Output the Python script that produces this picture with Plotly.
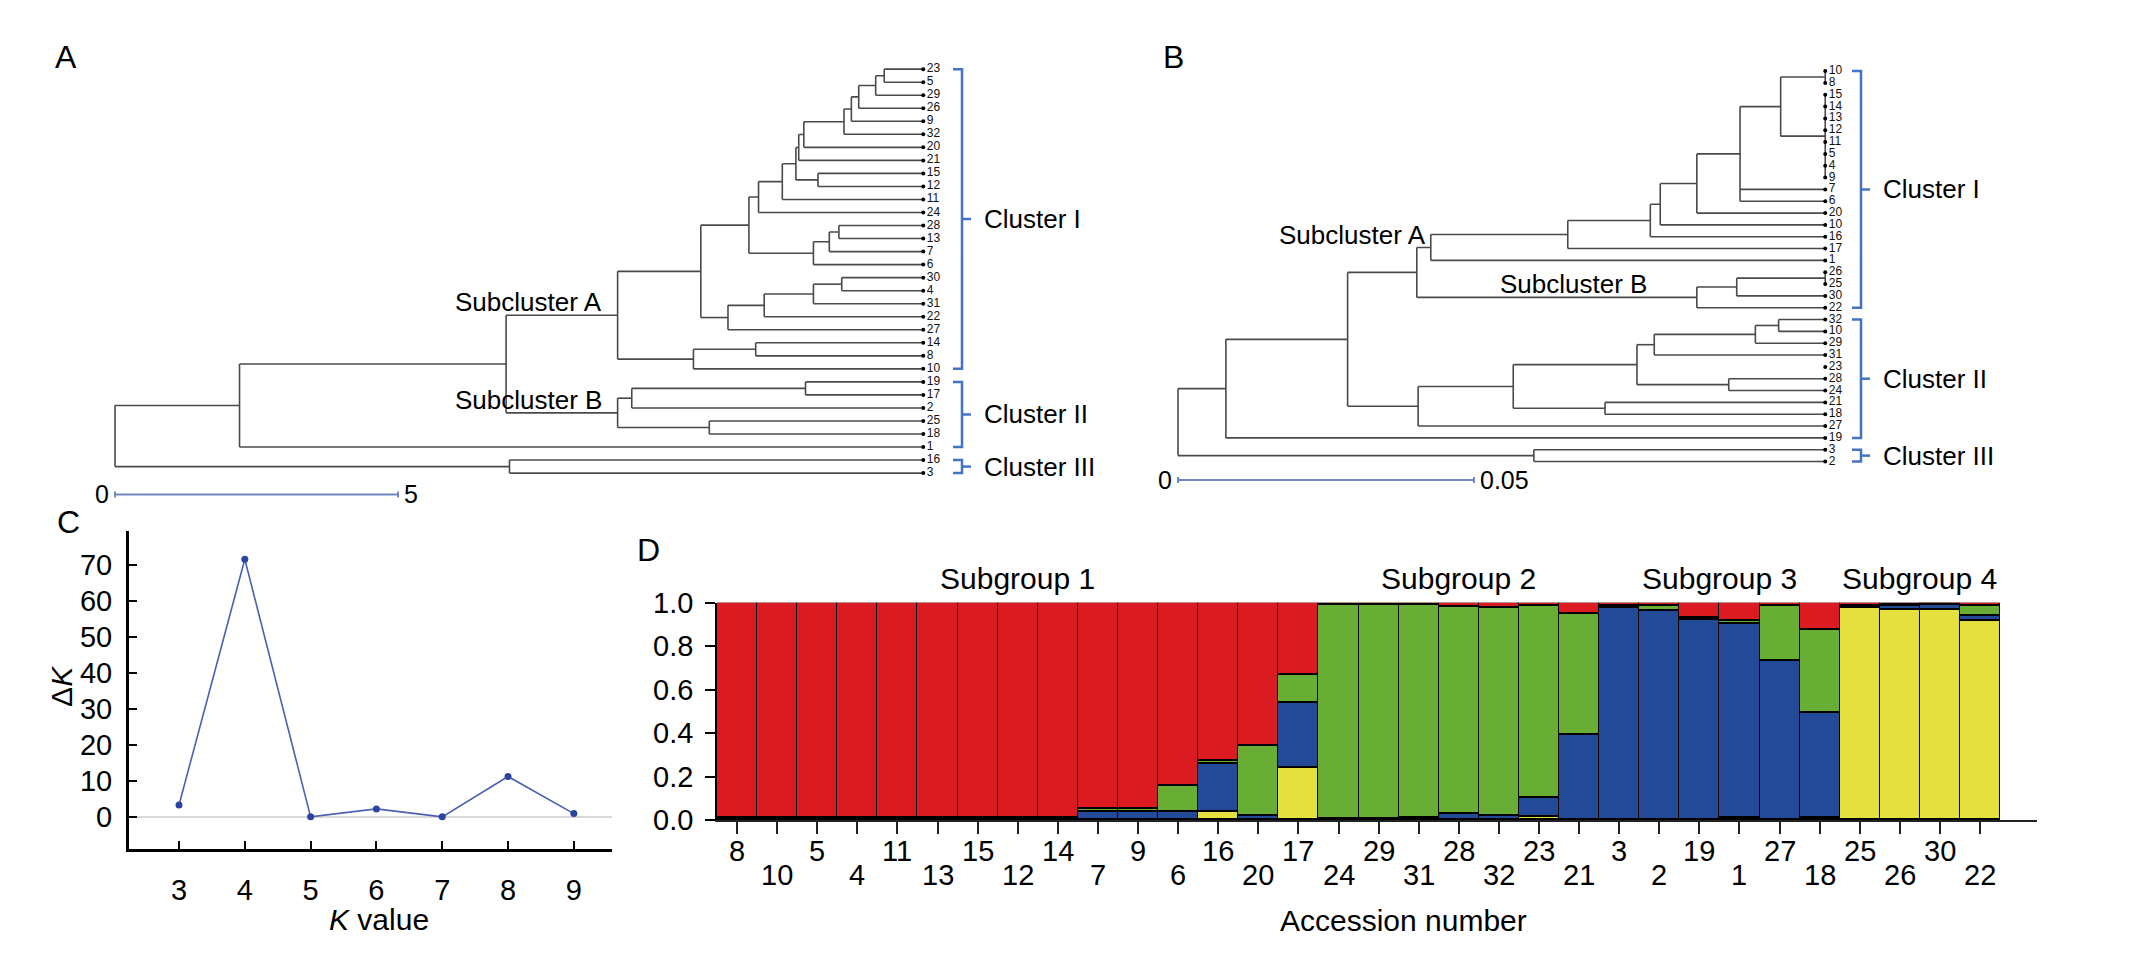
import plotly.graph_objects as go

W, H = 2135, 959
FONT = "Liberation Sans, Arial, sans-serif"
NARROW = "Liberation Sans Narrow, Liberation Sans, Arial, sans-serif"

# ---------------- Panel A: dendrogram ----------------
leaves_A = ["23", "5", "29", "26", "9", "32", "20", "21", "15", "12", "11", "24",
            "28", "13", "7", "6", "30", "4", "31", "22", "27", "14", "8", "10",
            "19", "17", "2", "25", "18", "1", "16", "3"]
tip_A = 14.28
# (node name, children [leaf index or node name], distance from root)
nodes_A = [
    ("n1", [0, 1], 13.59), ("n2", ["n1", 2], 13.44), ("n3", ["n2", 3], 13.14),
    ("n4", ["n3", 4], 13.01), ("n5", ["n4", 5], 12.88), ("n6", ["n5", 6], 12.17),
    ("n7", ["n6", 7], 12.08), ("n8", [8, 9], 12.42), ("n9", ["n7", "n8"], 12.03),
    ("n10", ["n9", 10], 11.79), ("n11", ["n10", 11], 11.37), ("n12", [12, 13], 12.79),
    ("n13", ["n12", 14], 12.62), ("n14", ["n13", 15], 12.34), ("n15", ["n11", "n14"], 11.20),
    ("n16", [16, 17], 12.84), ("n17", ["n16", 18], 12.34), ("n18", ["n17", 19], 11.47),
    ("n19", ["n18", 20], 10.83), ("n20", ["n15", "n19"], 10.35), ("n21", [21, 22], 11.32),
    ("n22", ["n21", 23], 10.22), ("subA", ["n20", "n22"], 8.88), ("n24", [24, 25], 12.20),
    ("n25", ["n24", 26], 9.13), ("n26", [27, 28], 10.50), ("subB", ["n25", "n26"], 8.88),
    ("n28", ["subA", "subB"], 6.91), ("n29", ["n28", 29], 2.20), ("n30", [30, 31], 6.97),
    ("root", ["n29", "n30"], 0.0),
]
clusters_A = [("Cluster I", 0, 23), ("Cluster II", 24, 29), ("Cluster III", 30, 31)]
scale_A = 5

# ---------------- Panel B: dendrogram ----------------
leaves_B = ["10", "8", "15", "14", "13", "12", "11", "5", "4", "9", "7", "6", "20",
            "10", "16", "17", "1", "26", "25", "30", "22", "32", "10", "29", "31",
            "23", "28", "24", "21", "18", "27", "19", "3", "2"]
tip_B = 0.10933
nodes_B = [
    ("m1", [0, 1], 0.10933), ("m2", [2, 3, 4, 5, 6, 7, 8, 9], 0.10933),
    ("m3", ["m1", "m2"], 0.10180), ("m4", ["m3", 10, 11], 0.09494),
    ("m5", ["m4", 12], 0.08764), ("m6", ["m5", 13], 0.08146), ("m7", ["m6", 14], 0.07978),
    ("m8", ["m7", 15], 0.06584), ("subA", ["m8", 16], 0.04270),
    ("m10", [17, 18], 0.10933), ("m11", ["m10", 19], 0.09438), ("subB", ["m11", 20], 0.08764),
    ("m13", ["subA", "subB"], 0.04034),
    ("m14", [21, 22], 0.10146), ("m15", ["m14", 23], 0.09753), ("m16", ["m15", 24], 0.08045),
    ("m17", [26, 27], 0.09303), ("m18", ["m16", "m17"], 0.07753), ("m19", [28, 29], 0.07213),
    ("m20", ["m18", "m19"], 0.05663), ("m21", ["m20", 30], 0.04056),
    ("m22", ["m13", "m21"], 0.02865), ("m23", ["m22", 31], 0.00809),
    ("m24", [32, 33], 0.06011), ("root", ["m23", "m24"], 0.0),
]
clusters_B = [("Cluster I", 0, 20), ("Cluster II", 21, 31), ("Cluster III", 32, 33)]
scale_B = 0.05

# ---------------- Panel C: delta K ----------------
k_values = [3, 4, 5, 6, 7, 8, 9]
delta_k = [3.4, 71.6, 0.1, 2.3, 0.1, 11.3, 1.0]

# ---------------- Panel D: STRUCTURE bar plot ----------------
accessions = ["8", "10", "5", "4", "11", "13", "15", "12", "14", "7", "9", "6", "16", "20",
              "17", "24", "29", "31", "28", "32", "23", "21", "3", "2", "19", "1", "27", "18",
              "25", "26", "30", "22"]
q_yellow = [0, 0, 0, 0, 0, 0, 0, 0, 0, 0, 0, 0, 0.04, 0, 0.241,
            0, 0, 0, 0, 0, 0.015, 0,
            0, 0, 0, 0.01, 0, 0.01,
            0.978, 0.97, 0.97, 0.919]
q_blue = [0.012] * 9 + [0.04, 0.04, 0.04, 0.222, 0.022, 0.30,
                        0.007, 0.007, 0.012, 0.03, 0.02, 0.09, 0.393,
                        0.978, 0.963, 0.92, 0.894, 0.733, 0.486,
                        0.005, 0.015, 0.02, 0.022]
q_green = [0] * 9 + [0.012, 0.012, 0.12, 0.012, 0.319, 0.126,
                     0.983, 0.983, 0.978, 0.952, 0.958, 0.88, 0.555,
                     0.01, 0.022, 0.01, 0.015, 0.252, 0.381,
                     0.005, 0.005, 0.005, 0.044]
q_red = [0.988] * 9 + [0.948, 0.948, 0.84, 0.726, 0.659, 0.333,
                       0.01, 0.01, 0.01, 0.018, 0.022, 0.015, 0.052,
                       0.012, 0.015, 0.07, 0.081, 0.015, 0.123,
                       0.012, 0.01, 0.005, 0.015]
subgroups = [("Subgroup 1", 0, 14), ("Subgroup 2", 15, 21), ("Subgroup 3", 22, 27),
             ("Subgroup 4", 28, 31)]

# ---------------- helpers ----------------
def PX(px):
    return px / W


def PY(py):
    return 1 - py / H


def note(x, y, text, size, xref="paper", yref="paper", xanchor="center", **kw):
    d = dict(x=x, y=y, xref=xref, yref=yref, text=text, showarrow=False,
             xanchor=xanchor, yanchor="middle", font=dict(size=size))
    d.update(kw)
    return d


def tree_segments(nodes, n_leaves, tip):
    pos = {i: (tip, float(i)) for i in range(n_leaves)}
    xs, ys = [], []
    for name, kids, d in nodes:
        cy = [pos[k][1] for k in kids]
        y0, y1 = min(cy), max(cy)
        for k in kids:
            kx, ky = pos[k]
            if abs(kx - d) > 1e-12:
                xs += [d, kx, None]
                ys += [ky, ky, None]
        xs += [d, d, None]
        ys += [y0, y1, None]
        pos[name] = (d, (y0 + y1) / 2)
    return xs, ys, pos


def tree_axes(x0_px, ppu, y0_px, step, box):
    l, r, t, b = box
    xd = dict(domain=[l / W, r / W], range=[(l - x0_px) / ppu, (r - x0_px) / ppu])
    yd = dict(domain=[1 - b / H, 1 - t / H], range=[(b - y0_px) / step, (t - y0_px) / step])
    return xd, yd


fig = go.Figure()
annotations = []
BLUE_BR = "#4472C4"
TREE_COL = "#4a4a4a"

panels = [
    dict(leaves=leaves_A, tip=tip_A, nodes=nodes_A, clusters=clusters_A, scale=scale_A,
         x0=115, ppu=56.6, y0=55, step=13.48, box=(0, 1150, 0, 520), ax="",
         brx=962, sby=495, scale_txt=("0", "5"),
         subA=(528, 296), subB=(528, 397), letter=("A", 66, 42)),
    dict(leaves=leaves_B, tip=tip_B, nodes=nodes_B, clusters=clusters_B, scale=scale_B,
         x0=1178, ppu=5920, y0=57, step=12.24, box=(1150, 2135, 0, 520), ax="2",
         brx=1861, sby=480, scale_txt=("0", "0.05"),
         subA=(1352, 227), subB=(1573, 277), letter=("B", 1173, 42)),
]

layout_axes = {}
for p in panels:
    ax = p["ax"]
    xref, yref = "x" + ax, "y" + ax
    xd, yd = tree_axes(p["x0"], p["ppu"], p["y0"], p["step"], p["box"])
    layout_axes["xaxis" + ax] = dict(visible=False, fixedrange=True, anchor=yref, **xd)
    layout_axes["yaxis" + ax] = dict(visible=False, fixedrange=True, anchor=xref, **yd)

    xs, ys, pos = tree_segments(p["nodes"], len(p["leaves"]), p["tip"])
    fig.add_trace(go.Scatter(x=xs, y=ys, mode="lines", xaxis=xref, yaxis=yref,
                             line=dict(color=TREE_COL, width=1.6), hoverinfo="skip",
                             showlegend=False))
    n = len(p["leaves"])
    fig.add_trace(go.Scatter(x=[p["tip"]] * n, y=list(range(n)), mode="markers+text",
                             text=p["leaves"], textposition="middle right",
                             textfont=dict(size=12, family=NARROW, color="#111"),
                             marker=dict(size=4, color="black"), xaxis=xref, yaxis=yref,
                             cliponaxis=False, hoverinfo="skip", showlegend=False))

    # cluster brackets
    bx = (p["brx"] - p["x0"]) / p["ppu"]
    t1 = 9 / p["ppu"]
    bxs, bys = [], []
    for label, a, b in p["clusters"]:
        mid = (a + b) / 2
        bxs += [bx - t1, bx, bx, bx - t1, None, bx, bx + t1, None]
        bys += [a, a, b, b, None, mid, mid, None]
        annotations.append(note(bx + 20 / p["ppu"], mid, label, 26, xref=xref, yref=yref,
                                xanchor="left"))
    fig.add_trace(go.Scatter(x=bxs, y=bys, mode="lines", xaxis=xref, yaxis=yref,
                             line=dict(color=BLUE_BR, width=2.5), hoverinfo="skip",
                             showlegend=False))

    # scale bar
    sy = (p["sby"] - p["y0"]) / p["step"]
    tk = 3 / p["step"]
    fig.add_trace(go.Scatter(x=[0, p["scale"], None, 0, 0, None, p["scale"], p["scale"]],
                             y=[sy, sy, None, sy - tk, sy + tk, None, sy - tk, sy + tk],
                             mode="lines", xaxis=xref, yaxis=yref,
                             line=dict(color="#6f88c4", width=2), hoverinfo="skip",
                             showlegend=False))
    annotations.append(note(0, sy, p["scale_txt"][0], 25, xref=xref, yref=yref,
                            xanchor="right", xshift=-4))
    annotations.append(note(p["scale"], sy, p["scale_txt"][1], 25, xref=xref, yref=yref,
                            xanchor="left", xshift=4))
    for txt, (qx, qy) in (("Subcluster A", p["subA"]), ("Subcluster B", p["subB"])):
        annotations.append(note(PX(qx), PY(qy), txt, 26))
    lt, lx, ly = p["letter"]
    annotations.append(note(PX(lx), PY(ly), lt, 32))

# ---------------- Panel C ----------------
fig.add_trace(go.Scatter(x=k_values, y=delta_k, mode="lines+markers", xaxis="x3", yaxis="y3",
                         line=dict(color="#4d5fb3", width=1.6),
                         marker=dict(size=7, color="#2a45a0"), showlegend=False,
                         cliponaxis=False))
layout_axes["xaxis3"] = dict(domain=[PX(129), PX(612)], range=[2.24, 9.58], anchor="y3",
                             tickvals=k_values, showline=True, linecolor="black", linewidth=3,
                             ticks="inside", ticklen=8, tickwidth=2, tickcolor="black",
                             showgrid=False, zeroline=False, tickfont=dict(size=29),
                             ticklabelstandoff=13, fixedrange=True)
layout_axes["yaxis3"] = dict(domain=[PY(862), PY(533)], range=[-8.9, 79.4], anchor="x3",
                             tickvals=[0, 10, 20, 30, 40, 50, 60, 70], showline=True,
                             linecolor="black", linewidth=3, ticks="inside", ticklen=8,
                             tickwidth=2, tickcolor="black", showgrid=False, zeroline=True,
                             zerolinecolor="#d9d9d9", zerolinewidth=2, tickfont=dict(size=29),
                             ticklabelstandoff=8, fixedrange=True)
annotations += [
    note(PX(68), PY(523), "C", 32),
    note(PX(62), PY(693), "Δ<i>K</i>", 30, textangle=-90),
    note(PX(379), PY(935), "<i>K</i> value", 30),
]

# ---------------- Panel D ----------------
xi = list(range(len(accessions)))
for vals, col, nm in ((q_yellow, "#e4e03d", "K4"), (q_blue, "#224a96", "K3"),
                      (q_green, "#68ae34", "K2"), (q_red, "#da1b22", "K1")):
    fig.add_trace(go.Bar(x=xi, y=vals, width=1, marker=dict(color=col,
                         line=dict(color="black", width=1.5)), xaxis="x4", yaxis="y4",
                         name=nm, showlegend=False, cliponaxis=False,
                         customdata=accessions,
                         hovertemplate="%{customdata}: %{y}<extra></extra>"))
layout_axes["xaxis4"] = dict(domain=[PX(717), PX(2037)], range=[-0.5, 32.42], anchor="y4",
                             tickvals=xi, showticklabels=False, ticks="outside", ticklen=12,
                             tickwidth=2, tickcolor="#222", showline=True, linecolor="#222",
                             linewidth=2, showgrid=False, zeroline=False, fixedrange=True)
layout_axes["yaxis4"] = dict(domain=[PY(832), PY(607)], range=[0, 1], anchor="x4",
                             tickvals=[0, 0.2, 0.4, 0.6, 0.8, 1.0], tickformat=".1f",
                             ticks="outside", ticklen=10, tickwidth=2, tickcolor="black",
                             showline=True, linecolor="black", linewidth=1.5, showgrid=False,
                             zeroline=False, tickfont=dict(size=29), ticklabelstandoff=6,
                             fixedrange=True)
for i, acc in enumerate(accessions):
    annotations.append(note(i, PY(864 if i % 2 == 0 else 889), acc, 29, xref="x4"))
for name, a, b in subgroups:
    annotations.append(note((a + b) / 2, PY(582), name, 30, xref="x4"))
annotations += [
    note(PX(648), PY(552), "D", 32),
    note(PX(1403), PY(936), "Accession number", 30),
]

fig.update_layout(
    width=W, height=H, margin=dict(l=0, r=0, t=0, b=0),
    paper_bgcolor="white", plot_bgcolor="rgba(0,0,0,0)",
    font=dict(family=FONT, color="black"),
    barmode="stack", bargap=0, showlegend=False,
    annotations=annotations, **layout_axes,
)

fig.write_html("out.html", config={"displayModeBar": False},
               post_script="document.body.style.margin='0';")
